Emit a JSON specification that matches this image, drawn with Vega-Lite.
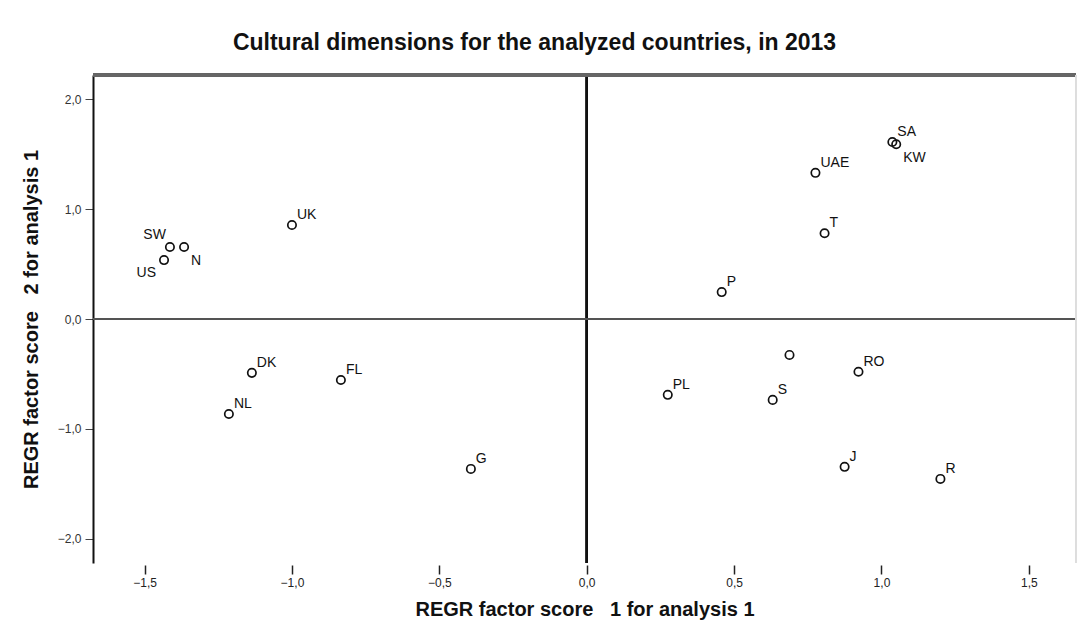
{
  "$schema": "https://vega.github.io/schema/vega-lite/v6.json",
  "autosize": {"type": "none"},
  "width": 983,
  "height": 488,
  "padding": {"left": 93, "top": 75, "right": 2, "bottom": 69},
  "background": "white",
  "title": {
    "text": "Cultural dimensions for the analyzed countries, in 2013",
    "font": "Liberation Sans",
    "fontSize": 23,
    "fontWeight": "bold",
    "color": "#111",
    "anchor": "middle",
    "dx": -50,
    "baseline": "bottom",
    "offset": -4
  },
  "config": {
    "view": {"stroke": null},
    "font": "Liberation Sans"
  },
  "data": {
    "values": [
      {"country": "SA", "f1": 1.037, "f2": 1.61},
      {"country": "KW", "f1": 1.05, "f2": 1.59},
      {"country": "UAE", "f1": 0.776, "f2": 1.33},
      {"country": "T", "f1": 0.807, "f2": 0.78},
      {"country": "P", "f1": 0.458, "f2": 0.245},
      {"country": "UK", "f1": -1.0, "f2": 0.855},
      {"country": "SW", "f1": -1.414, "f2": 0.655},
      {"country": "N", "f1": -1.366, "f2": 0.655},
      {"country": "US", "f1": -1.434, "f2": 0.536},
      {"country": "DK", "f1": -1.136, "f2": -0.49},
      {"country": "NL", "f1": -1.214, "f2": -0.864},
      {"country": "FL", "f1": -0.834, "f2": -0.555},
      {"country": "G", "f1": -0.393, "f2": -1.364},
      {"country": "PL", "f1": 0.275, "f2": -0.69},
      {"country": "", "f1": 0.688, "f2": -0.327},
      {"country": "S", "f1": 0.631, "f2": -0.736},
      {"country": "RO", "f1": 0.922, "f2": -0.48},
      {"country": "J", "f1": 0.875, "f2": -1.345},
      {"country": "R", "f1": 1.2, "f2": -1.455}
    ]
  },
  "layer": [
    {
      "mark": {"type": "point", "shape": "circle", "filled": false, "size": 70, "stroke": "#111", "strokeWidth": 1.7, "opacity": 1},
      "encoding": {
        "x": {
          "field": "f1", "type": "quantitative",
          "scale": {"domain": [-1.675, 1.66], "nice": false, "zero": false},
          "axis": {
            "title": "REGR factor score\u00a0\u00a0\u00a01 for analysis 1",
            "titleFont": "Liberation Sans", "titleFontSize": 20, "titleFontWeight": "bold", "titleColor": "#111",
            "titlePadding": 11,
            "values": [-1.5, -1, -0.5, 0, 0.5, 1, 1.5],
            "labelExpr": "replace(format(datum.value, '.1f'), '.', ',')",
            "labelFontSize": 12, "labelColor": "#222", "labelPadding": 3,
            "domain": false, "grid": false,
            "offset": 2, "tickSize": 9, "tickColor": "#222", "tickWidth": 1.5
          }
        },
        "y": {
          "field": "f2", "type": "quantitative",
          "scale": {"domain": [-2.22, 2.22], "nice": false, "zero": false},
          "axis": {
            "title": "REGR factor score\u00a0\u00a0\u00a02 for analysis 1",
            "titleFont": "Liberation Sans", "titleFontSize": 20, "titleFontWeight": "bold", "titleColor": "#111",
            "titlePadding": 16,
            "values": [-2, -1, 0, 1, 2],
            "labelExpr": "replace(format(datum.value, '.1f'), '.', ',')",
            "labelFontSize": 12, "labelColor": "#333", "labelPadding": 4,
            "domain": true, "domainColor": "#111", "domainWidth": 2,
            "grid": false, "tickSize": 8, "tickColor": "#444", "tickWidth": 1
          }
        }
      }
    },
    {
      "mark": {"type": "rule", "stroke": "#111", "strokeWidth": 1.6},
      "encoding": {"x": {"datum": 0, "type": "quantitative"}}
    },
    {
      "mark": {"type": "rule", "stroke": "#555", "strokeWidth": 1},
      "encoding": {"y": {"datum": 0, "type": "quantitative"}}
    },
    {
      "mark": {"type": "rule", "stroke": "#666", "strokeWidth": 2.5},
      "encoding": {"y": {"datum": 2.22, "type": "quantitative"}}
    },
    {
      "mark": {"type": "rule", "stroke": "#ddd", "strokeWidth": 1},
      "encoding": {"x": {"datum": 1.66, "type": "quantitative"}}
    },
    {
      "transform": [{"filter": "isValid(datum.country) && datum.country != '' && indexof(['KW', 'N', 'SW', 'US'], datum.country) < 0"}],
      "mark": {"type": "text", "align": "left", "baseline": "middle", "dx": 5, "dy": -10, "fontSize": 14, "color": "#111"},
      "encoding": {
        "x": {"field": "f1", "type": "quantitative"},
        "y": {"field": "f2", "type": "quantitative"},
        "text": {"field": "country"}
      }
    },
    {
      "transform": [{"filter": {"field": "country", "oneOf": ["KW", "N"]}}],
      "mark": {"type": "text", "align": "left", "baseline": "middle", "dx": 7, "dy": 14, "fontSize": 14, "color": "#111"},
      "encoding": {
        "x": {"field": "f1", "type": "quantitative"},
        "y": {"field": "f2", "type": "quantitative"},
        "text": {"field": "country"}
      }
    },
    {
      "transform": [{"filter": {"field": "country", "equal": "SW"}}],
      "mark": {"type": "text", "align": "right", "baseline": "middle", "dx": -4, "dy": -12, "fontSize": 14, "color": "#111"},
      "encoding": {
        "x": {"field": "f1", "type": "quantitative"},
        "y": {"field": "f2", "type": "quantitative"},
        "text": {"field": "country"}
      }
    },
    {
      "transform": [{"filter": {"field": "country", "equal": "US"}}],
      "mark": {"type": "text", "align": "right", "baseline": "middle", "dx": -8, "dy": 13, "fontSize": 14, "color": "#111"},
      "encoding": {
        "x": {"field": "f1", "type": "quantitative"},
        "y": {"field": "f2", "type": "quantitative"},
        "text": {"field": "country"}
      }
    }
  ]
}
